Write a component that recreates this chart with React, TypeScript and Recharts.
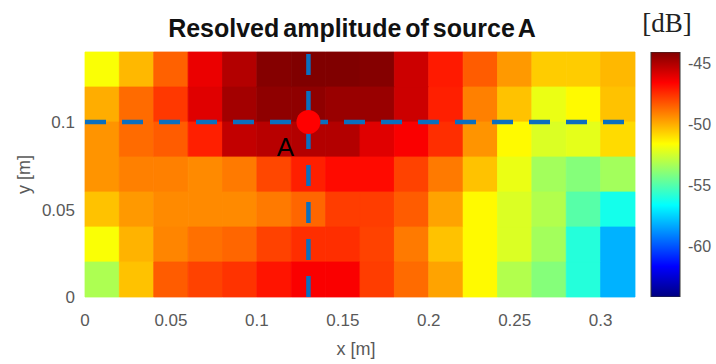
import { ScatterChart, BarChart, Bar, Scatter, XAxis, YAxis, ReferenceArea, ReferenceLine } from "recharts"

const FONT = '"Liberation Sans", Arial, sans-serif'

// cell edges of the grid [m]
const xEdges = [0, 0.02, 0.04, 0.06, 0.08, 0.1, 0.12, 0.14, 0.16, 0.18, 0.2, 0.22, 0.24, 0.26, 0.28, 0.3, 0.32]
const yEdges = [0, 0.02, 0.04, 0.06, 0.08, 0.1, 0.12, 0.14]

// resolved amplitude in dB, rows from the top (y 0.12-0.14) down to y 0-0.02
const levels = [
  [-51.7, -50.2, -48.5, -46.2, -45.1, -44.2, -44.0, -44.0, -44.2, -45.6, -47.1, -48.4, -49.6, -50.6, -50.6, -50.2],
  [-50.0, -48.7, -47.7, -46.0, -44.8, -44.4, -44.4, -44.6, -44.6, -45.6, -47.2, -49.1, -50.4, -52.0, -51.5, -50.4],
  [-49.5, -48.7, -48.4, -47.2, -45.4, -45.2, -45.1, -45.1, -46.0, -46.5, -47.5, -49.5, -51.5, -52.3, -52.1, -50.9],
  [-49.5, -49.1, -49.1, -49.3, -49.0, -48.0, -47.2, -46.8, -46.8, -47.9, -49.0, -50.4, -52.0, -53.4, -54.0, -53.4],
  [-50.4, -49.6, -49.3, -49.3, -49.3, -49.0, -48.6, -47.8, -47.8, -48.4, -49.8, -51.5, -52.3, -53.1, -54.9, -56.2],
  [-51.7, -50.1, -49.2, -48.8, -48.6, -47.9, -47.5, -47.5, -47.9, -49.0, -50.4, -51.5, -52.3, -53.4, -55.9, -58.1],
  [-53.2, -50.4, -48.4, -47.9, -47.6, -47.0, -46.5, -46.5, -47.8, -48.7, -49.8, -51.5, -53.1, -54.0, -55.9, -58.1],
]

const xTicks = [0, 0.05, 0.1, 0.15, 0.2, 0.25, 0.3]
const yTicks = [0, 0.05, 0.1]
const dbTicks = [-60, -55, -50, -45]
const dbRange = [-64.1, -44.1]
const colorbar = [{ name: "dB", span: dbRange }]

const sourceA = [{ x: 0.13, y: 0.1 }]

function jet(v: number) {
  const t = Math.min(1, Math.max(0, (v - dbRange[0]) / (dbRange[1] - dbRange[0])))
  const ch = (k: number) => Math.round(255 * Math.min(1, Math.max(0, 1.5 - Math.abs(4 * t - k))))
  return `rgb(${ch(3)},${ch(2)},${ch(1)})`
}

const cells = levels.flatMap((row, r) =>
  row.map((v, c) => ({
    x1: xEdges[c],
    x2: xEdges[c + 1],
    y1: yEdges[levels.length - 1 - r],
    y2: yEdges[levels.length - r],
    color: jet(v),
  }))
)

function SourceDot(props: any) {
  const { cx, cy } = props
  return (
    <g>
      <circle cx={cx} cy={cy} r={12} fill="#ff0000" />
      <text x={cx - 23} y={cy + 34} textAnchor="middle" fontSize={26} fill="#000" fontFamily={FONT}>
        A
      </text>
    </g>
  )
}

export default function App() {
  return (
    <div style={{ position: "absolute", left: 0, top: 0, width: 716, height: 364, background: "#fff", fontFamily: FONT }}>
      <div
        style={{
          position: "absolute",
          left: 77,
          top: 16,
          width: 550,
          textAlign: "center",
          fontSize: 25,
          lineHeight: "25px",
          fontWeight: "bold",
          wordSpacing: -3,
          color: "#111",
          whiteSpace: "nowrap",
        }}
      >
        Resolved amplitude of source A
      </div>

      <ScatterChart width={716} height={364} margin={{ top: 52, right: 81, bottom: 0, left: 0 }}>
        <XAxis
          type="number"
          dataKey="x"
          domain={[0, 0.32]}
          ticks={xTicks}
          allowDataOverflow
          axisLine={false}
          tickLine={false}
          tickSize={0}
          tickMargin={17}
          height={67}
          tick={{ fill: "#595959", fontSize: 17, fontFamily: FONT }}
          label={{
            content: ({ viewBox }: any) => (
              <text x={viewBox.x + viewBox.width / 2 - 4} y={355} textAnchor="middle" fill="#595959" fontSize={18} fontFamily={FONT}>
                x [m]
              </text>
            ),
          }}
        />
        <YAxis
          type="number"
          dataKey="y"
          domain={[0, 0.14]}
          ticks={yTicks}
          allowDataOverflow
          axisLine={false}
          tickLine={false}
          tickSize={0}
          tickMargin={10}
          width={85}
          tick={{ fill: "#595959", fontSize: 17, fontFamily: FONT }}
          label={{
            content: ({ viewBox }: any) => {
              const lx = viewBox.x + 24
              const ly = viewBox.y + viewBox.height / 2
              return (
                <text
                  x={lx}
                  y={ly}
                  transform={`rotate(-90 ${lx} ${ly})`}
                  textAnchor="middle"
                  dominantBaseline="central"
                  fill="#595959"
                  fontSize={18}
                  fontFamily={FONT}
                >
                  y [m]
                </text>
              )
            },
          }}
        />
        {cells.map((c, i) => (
          <ReferenceArea
            key={i}
            x1={c.x1}
            x2={c.x2}
            y1={c.y1}
            y2={c.y2}
            fill={c.color}
            fillOpacity={1}
            stroke={c.color}
            strokeWidth={0.8}
          />
        ))}
        <ReferenceLine y={0.1} stroke="#0b6fbf" strokeWidth={4.5} strokeDasharray="21 16" />
        <ReferenceLine x={0.13} stroke="#0b6fbf" strokeWidth={4.5} strokeDasharray="21 16" />
        <Scatter data={sourceA} shape={SourceDot} isAnimationActive={false} />
      </ScatterChart>

      <div
        style={{
          position: "absolute",
          left: 630,
          top: 10,
          width: 74,
          textAlign: "center",
          fontFamily: '"Liberation Serif", "Times New Roman", serif',
          fontSize: 27,
          lineHeight: "27px",
          color: "#222",
        }}
      >
        [dB]
      </div>

      <div style={{ position: "absolute", left: 640, top: 0 }}>
        <BarChart
          width={76}
          height={364}
          data={colorbar}
          margin={{ top: 52, right: 0, bottom: 67, left: 11 }}
          barCategoryGap={0}
        >
          <defs>
            <linearGradient id="jetBar" x1="0" y1="1" x2="0" y2="0">
              <stop offset="0" stopColor="#000080" />
              <stop offset="0.125" stopColor="#0000ff" />
              <stop offset="0.375" stopColor="#00ffff" />
              <stop offset="0.625" stopColor="#ffff00" />
              <stop offset="0.875" stopColor="#ff0000" />
              <stop offset="1" stopColor="#800000" />
            </linearGradient>
          </defs>
          <XAxis dataKey="name" hide />
          <YAxis
            type="number"
            orientation="right"
            domain={dbRange}
            ticks={dbTicks}
            allowDataOverflow
            axisLine={false}
            tickLine={false}
            tickSize={0}
            tickMargin={8}
            width={36}
            tick={{ fill: "#595959", fontSize: 16, fontFamily: FONT }}
          />
          <Bar dataKey="span" fill="url(#jetBar)" stroke="#333" strokeWidth={1} isAnimationActive={false} />
        </BarChart>
      </div>
    </div>
  )
}
